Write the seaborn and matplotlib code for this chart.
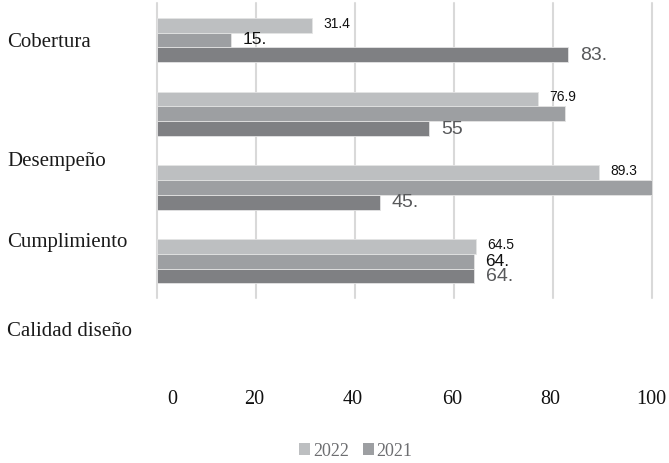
import matplotlib
matplotlib.use("Agg")
import matplotlib.pyplot as plt
from matplotlib.patches import Patch
import pandas as pd
import seaborn as sns

# ---- data ----
categorias = ["Cobertura", "Desempeño", "Cumplimiento", "Calidad diseño"]
series = ["2022", "2021", "2020"]
valores_2022 = [31.4, 76.9, 89.3, 64.5]
valores_2021 = [15, 82.4, 100, 64]
valores_2020 = [83, 55, 45, 64]
etiquetas_2022 = ["31.4", "76.9", "89.3", "64.5"]
etiquetas_2021 = ["15.", "", "", "64."]
etiquetas_2020 = ["83.", "55", "45.", "64."]
ticks_x = [0, 20, 40, 60, 80, 100]
ticks_x_texto = ["0", "20", "40", "60", "80", "100"]
leyenda = ["2022", "2021"]

colores = {"2022": "#BDBFC1", "2021": "#9D9FA2", "2020": "#7F8083"}

df = pd.DataFrame({
    "categoria": categorias * 3,
    "serie": [s for s in series for _ in categorias],
    "valor": valores_2022 + valores_2021 + valores_2020,
})

sns.set_theme(style="white")
SERIF = ["Liberation Serif", "DejaVu Serif"]
SANS = ["Liberation Sans", "DejaVu Sans"]

W, H, DPI = 669, 463, 100
fig = plt.figure(figsize=(W / DPI, H / DPI), dpi=DPI)
ax = fig.add_axes([157 / W, 1 - 298 / H, 495 / W, 295 / H])

sns.barplot(data=df, y="categoria", x="valor", hue="serie", order=categorias,
            hue_order=series, palette=colores, orient="h", width=0.6,
            saturation=1, edgecolor="#e4e4e4", linewidth=0.6,
            legend=False, ax=ax, zorder=2)

ax.set_xlim(0, 100)
ax.set_xticks(ticks_x)
ax.set_xticklabels([])
ax.set_yticks([])
ax.set_xlabel("")
ax.set_ylabel("")
ax.tick_params(length=0)
for s in ax.spines.values():
    s.set_visible(False)
ax.grid(axis="x", color="#d9d9d9", linewidth=1.5, zorder=0)
ax.set_axisbelow(True)
for gl in ax.get_xgridlines():
    gl.set_clip_on(False)

# value labels next to each bar
estilos = [
    (etiquetas_2022, 10, "#111111", (8, 1)),
    (etiquetas_2021, 12.5, "#111111", (8.5, 0)),
    (etiquetas_2020, 14, "#58595B", (8.5, -0.5)),
]
for cont, (etqs, fs, col, off) in zip(ax.containers, estilos):
    for barra, txt in zip(cont.patches, etqs):
        if not txt:
            continue
        ax.annotate(txt, xy=(barra.get_width(), barra.get_y() + barra.get_height() / 2),
                    xytext=off, textcoords="offset points", ha="left", va="center",
                    fontsize=fs, color=col, family=SANS, annotation_clip=False)

# category names on the left
base_cat = [47, 166, 247, 336]
for nombre, yb in zip(categorias, base_cat):
    fig.text(7 / W, 1 - yb / H, nombre, ha="left", va="baseline",
             fontsize=15, color="#1a1a1a", family=SERIF)

# x axis numbers
centros_x = [172, 254, 353, 452, 550, 651]
for cx, t in zip(centros_x, ticks_x_texto):
    fig.text(cx / W, 1 - 404 / H, t, ha="center", va="baseline",
             fontsize=14.5, color="#111111", family=SERIF)

# legend
handles = [Patch(facecolor=colores[s], edgecolor="none") for s in leyenda]
leg = fig.legend(handles, leyenda, loc="center", bbox_to_anchor=(356 / W, 1 - 451 / H),
                 ncol=2, frameon=False, handlelength=0.6, handleheight=0.6,
                 handletextpad=0.15, columnspacing=0.8,
                 prop={"family": SERIF, "size": 13})
for t in leg.get_texts():
    t.set_color("#6d6e71")

fig.savefig("out.png", dpi=DPI)
